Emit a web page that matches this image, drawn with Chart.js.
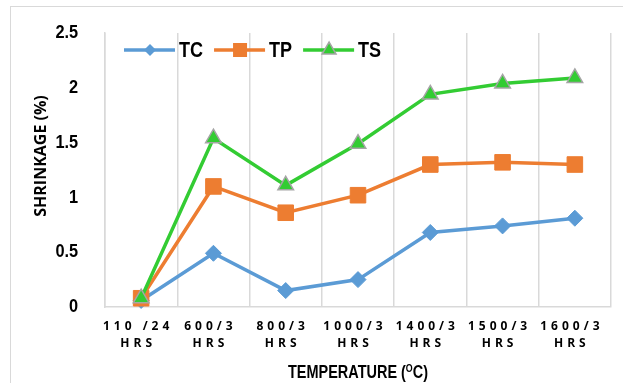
<!DOCTYPE html>
<html lang="en">
<head>
    <meta charset="UTF-8">
    <title>Shrinkage vs Temperature</title>
    <script src="https://cdn.jsdelivr.net/npm/chart.js"></script>
    <style>
        body {
            margin: 0;
            background: #fff;
            overflow: hidden;
        }
        .wrap {
            position: relative;
            width: 623px;
            height: 383px;
            overflow: hidden;
        }
        #shrinkChart {
            position: absolute;
            left: 0;
            top: 0;
        }
        .frame {
            position: absolute;
            left: 10px;
            top: 6px;
            width: 700px;
            height: 500px;
            border: 1px solid #d9d9d9;
            pointer-events: none;
        }
    </style>
</head>
<body>
    <div class="wrap">
        <canvas id="shrinkChart" width="623" height="383"></canvas>
        <div class="frame"></div>
    </div>
    <script>
        // categories (two-line tick labels)
        const categories = [
            ['110 /24', 'HRS'],
            ['600/3', 'HRS'],
            ['800/3', 'HRS'],
            ['1000/3', 'HRS'],
            ['1400/3', 'HRS'],
            ['1500/3', 'HRS'],
            ['1600/3', 'HRS']
        ];

        // shrinkage (%)
        const tcValues = [0.06, 0.49, 0.15, 0.25, 0.68, 0.74, 0.81];
        const tpValues = [0.08, 1.10, 0.86, 1.02, 1.30, 1.32, 1.30];
        const tsValues = [0.08, 1.54, 1.11, 1.49, 1.94, 2.04, 2.09];

        const seriesNames = ['TC', 'TP', 'TS'];
        const yTitle = 'SHRINKAGE (%)';
        const xTitleParts = ['TEMPERATURE (', 'O', 'C)'];

        const BLUE = '#5b9bd5';
        const ORANGE = '#ed7d31';
        const GREEN = '#33cc33';
        const GREY = '#a5a5a5';
        const NARROW = 0.82; // fake "narrow" face by squeezing Liberation Sans

        // little marker drawer used for the legend samples
        function marker(ctx, style, x, y, r, fill, stroke, lw) {
            ctx.beginPath();
            if (style === 'diamond') {
                ctx.moveTo(x, y - r); ctx.lineTo(x + r, y);
                ctx.lineTo(x, y + r); ctx.lineTo(x - r, y);
            } else if (style === 'square') {
                ctx.rect(x - r, y - r, r * 2, r * 2);
            } else {
                const h = r * Math.sqrt(3) / 2;
                ctx.moveTo(x, y - r); ctx.lineTo(x + h, y + r / 2); ctx.lineTo(x - h, y + r / 2);
            }
            ctx.closePath();
            ctx.fillStyle = fill;
            ctx.fill();
            if (lw) {
                ctx.lineWidth = lw;
                ctx.strokeStyle = stroke;
                ctx.stroke();
            }
        }

        // squeezed text, returns drawn width
        function narrowText(ctx, text, x, y, sx) {
            ctx.save();
            ctx.translate(x, y);
            ctx.scale(sx, 1);
            ctx.fillText(text, 0, 0);
            ctx.restore();
            return ctx.measureText(text).width * sx;
        }

        const extras = {
            id: 'extras',
            beforeDraw(chart) {
                const xs = chart.scales.x;
                if (!xs._patched) {
                    const orig = xs.drawLabels.bind(xs);
                    xs.drawLabels = function (area) {
                        const c = this.ctx;
                        c.save();
                        c.letterSpacing = '4px';
                        c.translate(-3, 0);
                        orig(area);
                        c.restore();
                    };
                    xs._patched = true;
                }
                const ys = chart.scales.y;
                if (!ys._patched) {
                    const origY = ys.drawLabels.bind(ys);
                    ys.drawLabels = function (area) {
                        const c = this.ctx;
                        const edge = this.right - this.options.ticks.padding;
                        c.save();
                        c.translate(edge, 0);
                        c.scale(0.86, 1);
                        c.translate(-edge, 0);
                        origY(area);
                        c.restore();
                    };
                    ys._patched = true;
                }
            },
            afterDraw(chart) {
                const ctx = chart.ctx;
                ctx.save();
                ctx.fillStyle = '#000';

                // y axis title
                ctx.save();
                ctx.translate(41, 156);
                ctx.rotate(-Math.PI / 2);
                ctx.font = 'bold 16px "Open Sans"';
                ctx.textAlign = 'center';
                ctx.textBaseline = 'middle';
                ctx.fillText(yTitle, 0, 0);
                ctx.restore();

                // x axis title with superscript O, squeezed to the reference width
                const big = 'bold 18px "Liberation Sans"';
                const small = 'bold 11px "Liberation Sans"';
                ctx.textBaseline = 'alphabetic';
                ctx.textAlign = 'left';
                ctx.font = big;
                const n0 = ctx.measureText(xTitleParts[0]).width;
                const n2 = ctx.measureText(xTitleParts[2]).width;
                ctx.font = small;
                const n1 = ctx.measureText(xTitleParts[1]).width;
                const sx = 140 / (n0 + n1 + n2);
                const mid = (chart.chartArea.left + chart.chartArea.right) / 2;
                let tx = mid - 70;
                const by = 378;
                ctx.font = big;
                narrowText(ctx, xTitleParts[0], tx, by, sx);
                tx += n0 * sx;
                ctx.font = small;
                narrowText(ctx, xTitleParts[1], tx, by - 6, sx);
                tx += n1 * sx;
                ctx.font = big;
                narrowText(ctx, xTitleParts[2], tx, by, sx);

                // legend
                const styles = [
                    { c: BLUE, m: 'diamond', r: 6, s: BLUE, lw: 0 },
                    { c: ORANGE, m: 'square', r: 7, s: ORANGE, lw: 0 },
                    { c: GREEN, m: 'triangle', r: 8, s: GREY, lw: 1.5 }
                ];
                let lx = 124;
                const ly = 50;
                ctx.font = 'bold 22px "Liberation Sans"';
                ctx.textBaseline = 'middle';
                seriesNames.forEach((name, i) => {
                    const st = styles[i];
                    ctx.beginPath();
                    ctx.moveTo(lx, ly);
                    ctx.lineTo(lx + 51, ly);
                    ctx.lineWidth = 3.5;
                    ctx.strokeStyle = st.c;
                    ctx.stroke();
                    marker(ctx, st.m, lx + 26, ly, st.r, st.c, st.s, st.lw);
                    ctx.fillStyle = '#000';
                    const w = narrowText(ctx, name, lx + 55, ly + 1, NARROW);
                    lx += 55 + w + 11;
                });
                ctx.restore();
            }
        };

        const ctx = document.getElementById('shrinkChart').getContext('2d');
        new Chart(ctx, {
            type: 'line',
            data: {
                labels: categories,
                datasets: [
                    {
                        label: seriesNames[0],
                        data: tcValues,
                        borderColor: BLUE,
                        backgroundColor: BLUE,
                        pointBackgroundColor: BLUE,
                        pointBorderColor: BLUE,
                        pointStyle: 'rectRot',
                        pointRadius: 8,
                        pointBorderWidth: 1,
                        borderWidth: 3.5,
                        order: 2
                    },
                    {
                        label: seriesNames[1],
                        data: tpValues,
                        borderColor: ORANGE,
                        backgroundColor: ORANGE,
                        pointBackgroundColor: ORANGE,
                        pointBorderColor: ORANGE,
                        pointStyle: 'rect',
                        pointRadius: 11,
                        pointBorderWidth: 1,
                        borderWidth: 3.5,
                        order: 1
                    },
                    {
                        label: seriesNames[2],
                        data: tsValues,
                        borderColor: GREEN,
                        backgroundColor: GREEN,
                        pointBackgroundColor: GREEN,
                        pointBorderColor: GREY,
                        pointStyle: 'triangle',
                        pointRadius: 9,
                        pointBorderWidth: 1.5,
                        borderWidth: 3.5,
                        order: 0
                    }
                ]
            },
            options: {
                responsive: false,
                animation: false,
                devicePixelRatio: 1,
                clip: false,
                layout: {
                    padding: { top: 33, right: 12, left: 0, bottom: 0 }
                },
                plugins: {
                    legend: { display: false },
                    tooltip: { enabled: false }
                },
                scales: {
                    x: {
                        offset: true,
                        grid: {
                            display: true,
                            offset: true,
                            color: '#d9d9d9',
                            lineWidth: 1.5,
                            drawTicks: false
                        },
                        border: { display: true, color: '#d9d9d9', width: 1.5 },
                        ticks: {
                            color: '#000',
                            font: { family: 'Open Sans', weight: 'bold', size: 12, lineHeight: 1.4 },
                            padding: 11,
                            maxRotation: 0,
                            autoSkip: false
                        },
                        afterFit(scale) { scale.height = 76; }
                    },
                    y: {
                        min: 0,
                        max: 2.5,
                        grid: { display: false },
                        border: { display: true, color: '#d9d9d9', width: 1.5 },
                        ticks: {
                            stepSize: 0.5,
                            color: '#000',
                            font: { family: 'Liberation Sans', weight: 'bold', size: 19 },
                            padding: 20,
                            callback: (v) => String(+Number(v).toFixed(1))
                        },
                        afterFit(scale) { scale.width = 105; }
                    }
                }
            },
            plugins: [extras]
        });
    </script>
</body>
</html>
